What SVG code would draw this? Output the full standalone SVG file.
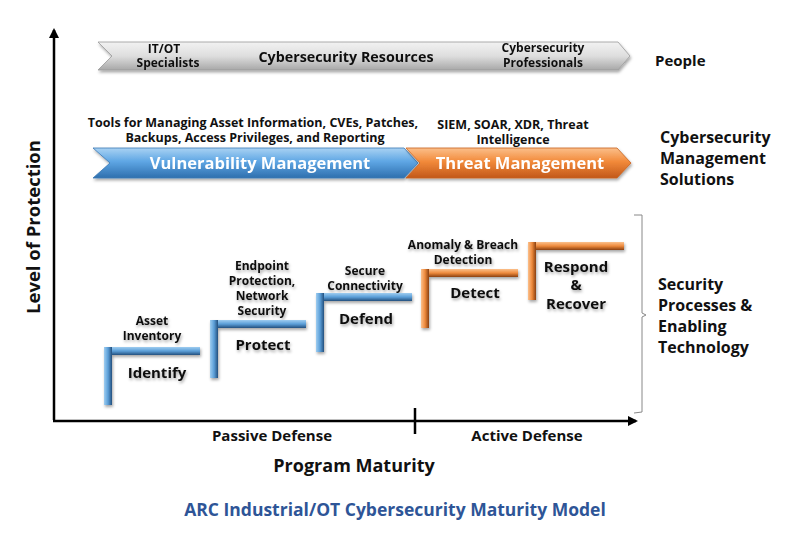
<svg xmlns="http://www.w3.org/2000/svg" width="806" height="545" viewBox="0 0 806 545">
<defs>
<style>
text{font-family:"Open Sans","Noto Sans","DejaVu Sans",sans-serif;font-weight:700;fill:#111}
.c{text-anchor:middle}
.s12{font-size:12px}
.s13{font-size:12.5px}
.s15{font-size:15px}
.s16{font-size:16px}
.w{fill:#fff;font-size:16.5px}
.axis{stroke:#000;stroke-width:2.5;fill:none}
</style>
<linearGradient id="gGray" x1="0" y1="0" x2="0" y2="1"><stop offset="0" stop-color="#f2f2f2"/><stop offset="0.5" stop-color="#dedede"/><stop offset="1" stop-color="#a8a8a8"/></linearGradient>
<linearGradient id="gBlue" x1="0" y1="0" x2="0" y2="1"><stop offset="0" stop-color="#a9d2f3"/><stop offset="0.45" stop-color="#5ea6e4"/><stop offset="1" stop-color="#2f6fae"/></linearGradient>
<linearGradient id="gOrg" x1="0" y1="0" x2="0" y2="1"><stop offset="0" stop-color="#fbbf8a"/><stop offset="0.45" stop-color="#f28a3a"/><stop offset="1" stop-color="#c2581a"/></linearGradient>
<linearGradient id="bH" x1="0" y1="0" x2="0" y2="1"><stop offset="0" stop-color="#9fcdf0"/><stop offset="0.5" stop-color="#5b9fd8"/><stop offset="1" stop-color="#24507e"/></linearGradient>
<linearGradient id="bV" x1="0" y1="0" x2="1" y2="0"><stop offset="0" stop-color="#9fcdf0"/><stop offset="0.5" stop-color="#5b9fd8"/><stop offset="1" stop-color="#24507e"/></linearGradient>
<linearGradient id="oH" x1="0" y1="0" x2="0" y2="1"><stop offset="0" stop-color="#fbc08c"/><stop offset="0.5" stop-color="#ee8a3c"/><stop offset="1" stop-color="#8a3f10"/></linearGradient>
<linearGradient id="oV" x1="0" y1="0" x2="1" y2="0"><stop offset="0" stop-color="#fbc08c"/><stop offset="0.5" stop-color="#ee8a3c"/><stop offset="1" stop-color="#8a3f10"/></linearGradient>
<filter id="sh" x="-10%" y="-20%" width="120%" height="160%"><feDropShadow dx="1" dy="2" stdDeviation="1.5" flood-color="#000" flood-opacity="0.35"/></filter>
<marker id="ah" viewBox="0 0 10 10" refX="8" refY="5" markerWidth="4" markerHeight="4" orient="auto"><path d="M0,0 L10,5 L0,10 z" fill="#000"/></marker>
</defs>
<rect width="806" height="545" fill="#fff"/>

<g id="axes">
<path class="axis" d="M54,420 L54,30" marker-end="url(#ah)"/>
<path class="axis" d="M53,421 L636,421" marker-end="url(#ah)"/>
<path class="axis" d="M415,408 L415,434"/>
<path d="M634,215 L642,215 L642,313 L646,315 L642,317 L642,412 L634,413" fill="none" stroke="#888" stroke-width="1"/>
</g>

<g id="people-arrow" filter="url(#sh)">
<polygon points="98,42 618,42 630,56 618,70 98,70 112,56" fill="url(#gGray)" stroke="#999" stroke-width="0.8"/>
<text class="c s12" x="164" y="53">IT/OT</text>
<text class="c s12" x="168" y="67">Specialists</text>
<text class="c" font-size="14.3" x="346" y="62">Cybersecurity Resources</text>
<text class="c s12" x="543" y="52">Cybersecurity</text>
<text class="c s12" x="543" y="67">Professionals</text>
</g>

<g id="vuln-arrow" filter="url(#sh)">
<polygon points="93,148 404,148 418,163 404,178 93,178 110,163" fill="url(#gBlue)" stroke="#3a78b5" stroke-width="0.8"/>
<text class="c w" x="260" y="169">Vulnerability Management</text>
</g>
<g id="threat-arrow" filter="url(#sh)">
<polygon points="406,148 617,148 631,163 617,178 406,178 420,163" fill="url(#gOrg)" stroke="#c8621e" stroke-width="0.8"/>
<text class="c w" x="520" y="169">Threat Management</text>
</g>
<g id="tool-labels">
<text class="c s13" x="253" y="127">Tools for Managing Asset Information, CVEs, Patches,</text>
<text class="c s13" x="255" y="142">Backups, Access Privileges, and Reporting</text>
<text class="c s13" x="513" y="129">SIEM, SOAR, XDR, Threat</text>
<text class="c s13" x="513" y="144">Intelligence</text>
</g>

<g id="step-identify" filter="url(#sh)">
<rect x="104" y="347" width="96" height="8" fill="url(#bH)"/>
<rect x="104" y="347" width="8" height="58" fill="url(#bV)"/>
<text class="c s12" x="152" y="325">Asset</text>
<text class="c s12" x="152" y="340">Inventory</text>
<text class="c s15" x="157" y="378">Identify</text>
</g>
<g id="step-protect" filter="url(#sh)">
<rect x="210" y="320" width="96" height="8" fill="url(#bH)"/>
<rect x="210" y="320" width="8" height="58" fill="url(#bV)"/>
<text class="c s12" x="262" y="270">Endpoint</text>
<text class="c s12" x="262" y="285">Protection,</text>
<text class="c s12" x="262" y="300">Network</text>
<text class="c s12" x="262" y="315">Security</text>
<text class="c s15" x="263" y="350">Protect</text>
</g>
<g id="step-defend" filter="url(#sh)">
<rect x="316" y="293" width="96" height="8" fill="url(#bH)"/>
<rect x="316" y="293" width="8" height="59" fill="url(#bV)"/>
<text class="c s12" x="365" y="275">Secure</text>
<text class="c s12" x="365" y="290">Connectivity</text>
<text class="c s15" x="366" y="324">Defend</text>
</g>
<g id="step-detect" filter="url(#sh)">
<rect x="421" y="269" width="97" height="8" fill="url(#oH)"/>
<rect x="421" y="269" width="8" height="59" fill="url(#oV)"/>
<text class="c s12" x="463" y="249">Anomaly &amp; Breach</text>
<text class="c s12" x="463" y="264">Detection</text>
<text class="c s15" x="475" y="298">Detect</text>
</g>
<g id="step-respond" filter="url(#sh)">
<rect x="528" y="242" width="96" height="8" fill="url(#oH)"/>
<rect x="528" y="242" width="8" height="58" fill="url(#oV)"/>
<text class="c s15" x="576" y="272">Respond</text>
<text class="c s15" x="576" y="290">&amp;</text>
<text class="c s15" x="576" y="309">Recover</text>
</g>

<g id="right-labels">
<text class="s15" x="655" y="66">People</text>
<text class="s16" x="660" y="143">Cybersecurity</text>
<text class="s16" x="660" y="164">Management</text>
<text class="s16" x="660" y="185">Solutions</text>
<text class="s16" x="658" y="290">Security</text>
<text class="s16" x="658" y="311">Processes &amp;</text>
<text class="s16" x="658" y="332">Enabling</text>
<text class="s16" x="658" y="353">Technology</text>
</g>

<g id="axis-labels">
<text class="c" font-size="18.5" transform="translate(40,227) rotate(-90)">Level of Protection</text>
<text class="c s15" x="272" y="441">Passive Defense</text>
<text class="c s15" x="527" y="441">Active Defense</text>
<text class="c" font-size="18" x="354" y="472">Program Maturity</text>
<text class="c" font-size="17.5" x="395" y="516" style="fill:#2e5597">ARC Industrial/OT Cybersecurity Maturity Model</text>
</g>
</svg>
